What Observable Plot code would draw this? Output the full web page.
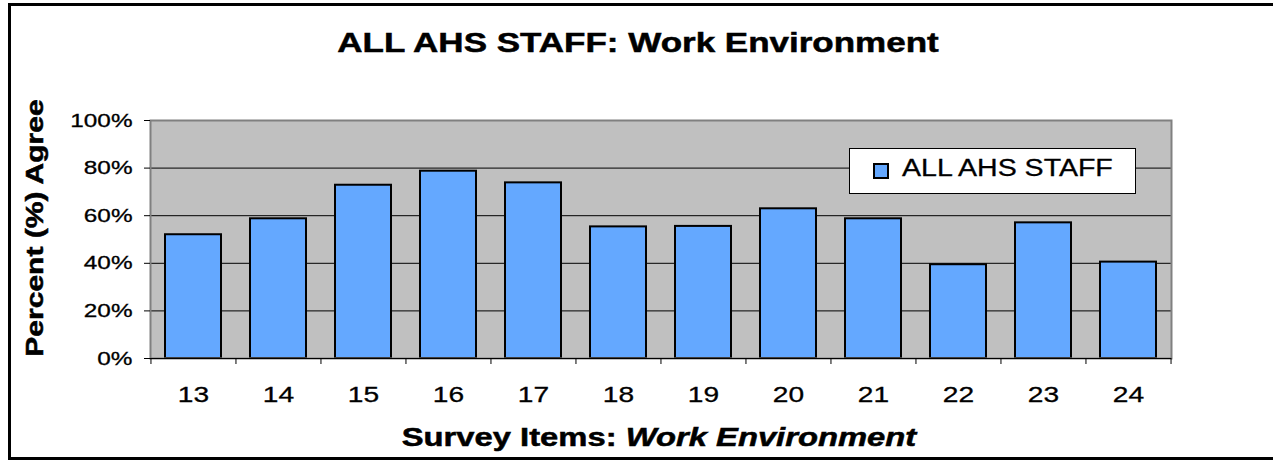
<!DOCTYPE html>
<html>
<head>
<meta charset="utf-8">
<script src="https://cdn.jsdelivr.net/npm/d3@7"></script>
<script src="https://cdn.jsdelivr.net/npm/@observablehq/plot@0.6"></script>
<style>
html, body { margin: 0; padding: 0; background: #fff; overflow: hidden; }
#wrap { position: relative; width: 1273px; height: 461px; font-family: "Liberation Sans", Arial, sans-serif; color: #000; }
#wrap svg { position: absolute; left: 0; top: 0; }
.border { position: absolute; left: 8px; top: 3px; width: 1300px; height: 457px; border: 3px solid #000; box-sizing: border-box; pointer-events: none; }
.title { position: absolute; left: 638px; top: 29px; font-size: 28px; line-height: 28px; font-weight: bold; white-space: nowrap; transform: translateX(-50%) scaleX(1.25); -webkit-text-stroke: 0.5px #000; }
.xlabel { position: absolute; left: 659px; top: 425px; font-size: 25px; line-height: 25px; font-weight: bold; white-space: nowrap; transform: translateX(-50%) scaleX(1.31); -webkit-text-stroke: 0.5px #000; }
.xlabel i { font-style: italic; }
.ylabel { position: absolute; left: 35px; top: 228px; font-size: 24px; line-height: 24px; font-weight: bold; white-space: nowrap; transform: translate(-50%, -50%) rotate(-90deg) scaleX(1.25); -webkit-text-stroke: 0.5px #000; }
.legend { position: absolute; left: 849px; top: 148px; width: 287px; height: 46px; box-sizing: border-box; border: 1px solid #000; background: #fff; }
.legend .sw { position: absolute; left: 23px; top: 14px; width: 16px; height: 16px; box-sizing: border-box; border: 2px solid #000; background: #64A8FF; }
.legend .lt { position: absolute; left: 52px; top: 8px; font-size: 23px; line-height: 23px; white-space: nowrap; transform-origin: 0 50%; transform: scaleX(1.24); -webkit-text-stroke: 0.3px #000; }
</style>
</head>
<body>
<div id="wrap"></div>
<script>
const items = ["13", "14", "15", "16", "17", "18", "19", "20", "21", "22", "23", "24"];
const agree = [52, 58.7, 72.8, 78.7, 73.8, 55.3, 55.5, 62.9, 58.7, 39.4, 57, 40.5];
const yTicks = [0, 20, 40, 60, 80, 100];
const gridTicks = [20, 40, 60, 80];
const seriesName = "ALL AHS STAFF";
const titleText = "ALL AHS STAFF: Work Environment";
const yLabelText = "Percent (%) Agree";
const xLabelMain = "Survey Items: ";
const xLabelItalic = "Work Environment";

const data = items.map((item, i) => ({item, value: agree[i]}));

const W = 1273, H = 461, mL = 150, mR = 102, mT = 120, mB = 103;
const bandHalf = (W - mL - mR) / items.length / 2;

const chart = Plot.plot({
  width: W, height: H,
  marginLeft: mL, marginRight: mR, marginTop: mT, marginBottom: mB,
  style: {fontFamily: "'Liberation Sans', Arial, sans-serif", color: "#000", background: "transparent", overflow: "visible"},
  x: {domain: items, paddingInner: 0.34, paddingOuter: 0.17},
  y: {domain: [0, 100]},
  marks: [
    Plot.frame({fill: "#C0C0C0", stroke: null}),
    Plot.gridY(gridTicks, {stroke: "#000", strokeOpacity: 1, strokeWidth: 1}),
    Plot.barY(data, {x: "item", y: "value", fill: "#64A8FF", stroke: "#000", strokeWidth: 2}),
    Plot.frame({stroke: "#808080", strokeWidth: 2}),
    Plot.ruleY([0], {stroke: "#000", strokeWidth: 1}),
    Plot.axisY(yTicks, {tickFormat: d => d + "%", tickSize: 6, tickPadding: 12, label: null, fontSize: 19, stroke: "#000"}),
    Plot.axisX({tickSize: 0, tickPadding: 28, label: null, fontSize: 22}),
    Plot.axisX({tickSize: 6, text: null, label: null, dx: -bandHalf, stroke: "#000"}),
    Plot.axisX([items[items.length - 1]], {tickSize: 6, text: null, label: null, dx: bandHalf, stroke: "#000"})
  ]
});

const wrap = document.getElementById("wrap");
wrap.appendChild(chart);

chart.querySelectorAll('g[aria-label="y-axis tick label"] text, g[aria-label="x-axis tick label"] text').forEach(t => {
  const L = t.getComputedTextLength();
  t.setAttribute("textLength", (L * 1.28).toFixed(1));
  t.setAttribute("lengthAdjust", "spacingAndGlyphs");
  t.setAttribute("stroke", "#000");
  t.setAttribute("stroke-width", "0.3");
});

const title = document.createElement("div");
title.className = "title";
title.textContent = titleText;
wrap.appendChild(title);

const xl = document.createElement("div");
xl.className = "xlabel";
xl.appendChild(document.createTextNode(xLabelMain));
const it = document.createElement("i");
it.textContent = xLabelItalic;
xl.appendChild(it);
wrap.appendChild(xl);

const yl = document.createElement("div");
yl.className = "ylabel";
yl.textContent = yLabelText;
wrap.appendChild(yl);

const lg = document.createElement("div");
lg.className = "legend";
const sw = document.createElement("div");
sw.className = "sw";
const lt = document.createElement("div");
lt.className = "lt";
lt.textContent = seriesName;
lg.appendChild(sw);
lg.appendChild(lt);
wrap.appendChild(lg);

const border = document.createElement("div");
border.className = "border";
wrap.appendChild(border);
</script>
</body>
</html>
